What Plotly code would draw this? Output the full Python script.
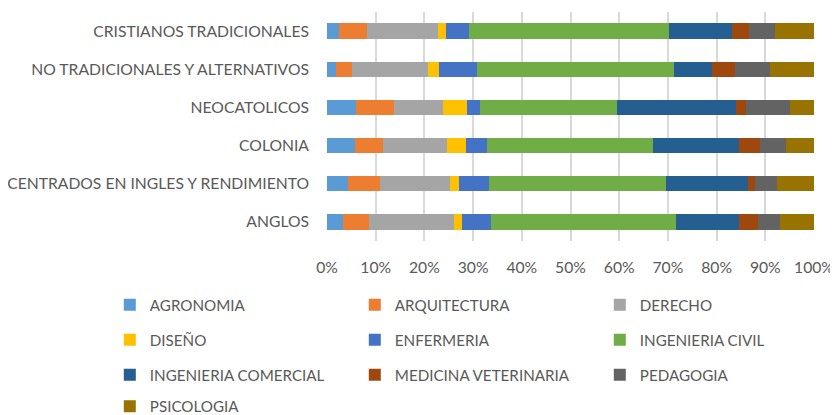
import plotly.graph_objects as go

categories = ["CRISTIANOS TRADICIONALES", "NO TRADICIONALES Y ALTERNATIVOS", "NEOCATOLICOS",
              "COLONIA", "CENTRADOS EN INGLES Y RENDIMIENTO", "ANGLOS"]

series_names = ["AGRONOMIA", "ARQUITECTURA", "DERECHO", "DISEÑO", "ENFERMERIA",
                "INGENIERIA CIVIL", "INGENIERIA COMERCIAL", "MEDICINA VETERINARIA",
                "PEDAGOGIA", "PSICOLOGIA"]

agronomia = [2.5, 1.9, 6.0, 5.7, 4.3, 3.3]
arquitectura = [5.8, 3.2, 7.8, 5.9, 6.6, 5.4]
derecho = [14.5, 15.7, 10.0, 13.0, 14.4, 17.4]
diseno = [1.6, 2.1, 5.0, 4.0, 1.9, 1.7]
enfermeria = [4.8, 7.8, 2.7, 4.3, 6.1, 5.8]
ing_civil = [41.1, 40.6, 28.0, 34.0, 36.4, 38.1]
ing_comercial = [12.9, 7.8, 24.5, 17.6, 16.7, 13.0]
medicina_vet = [3.4, 4.7, 2.0, 4.5, 1.5, 3.9]
pedagogia = [5.3, 7.2, 9.1, 5.2, 4.6, 4.5]
psicologia = [8.1, 9.0, 4.9, 5.8, 7.5, 6.9]

series_values = [agronomia, arquitectura, derecho, diseno, enfermeria, ing_civil,
                 ing_comercial, medicina_vet, pedagogia, psicologia]

colors = ["#5B9BD5", "#ED7D31", "#A5A5A5", "#FFC000", "#4472C4", "#70AD47",
          "#255E91", "#9E480E", "#636363", "#997300"]

legend_ids = ["legend", "legend", "legend", "legend2", "legend2", "legend2",
              "legend3", "legend3", "legend3", "legend4"]

FONT = "Lato, Calibri, Carlito, sans-serif"
TXT = "#595959"

fig = go.Figure()
for name, vals, col, lg in zip(series_names, series_values, colors, legend_ids):
    fig.add_trace(go.Bar(
        y=categories, x=vals, name=name, orientation="h",
        marker=dict(color=col, line=dict(width=0)),
        legend=lg,
    ))

leg_common = dict(orientation="h", entrywidth=200, entrywidthmode="pixels",
                  traceorder="normal",
                  font=dict(family=FONT, size=15.2, color=TXT),
                  bgcolor="rgba(0,0,0,0)", xanchor="left", yanchor="middle",
                  x=-0.446, itemclick=False, itemdoubleclick=False)

fig.update_layout(
    width=830, height=407,
    margin=dict(l=319, r=24, t=4, b=174, autoexpand=False),
    barmode="stack", barnorm="percent",
    bargap=0.6,
    plot_bgcolor="white", paper_bgcolor="white",
    font=dict(family=FONT, size=15.7, color=TXT),
    xaxis=dict(range=[0, 100], tickmode="array",
               tickvals=[0, 10, 20, 30, 40, 50, 60, 70, 80, 90, 100],
               ticktext=["0%", "10%", "20%", "30%", "40%", "50%", "60%", "70%", "80%", "90%", "100%"],
               showgrid=True, gridcolor="#D9D9D9", gridwidth=1.5,
               zeroline=False, showline=False, ticks="", automargin=False,
               ticklabelstandoff=15,
               tickfont=dict(family=FONT, size=15.7, color=TXT), fixedrange=True),
    yaxis=dict(autorange="reversed", showgrid=False, zeroline=False, showline=False,
               ticks="", ticklabelstandoff=17, automargin=False,
               tickfont=dict(family=FONT, size=15.7, color=TXT), fixedrange=True),
    legend=dict(leg_common, y=-0.279),
    legend2=dict(leg_common, y=-0.432),
    legend3=dict(leg_common, y=-0.585),
    legend4=dict(leg_common, y=-0.722),
)

fig.write_html("out.html")
